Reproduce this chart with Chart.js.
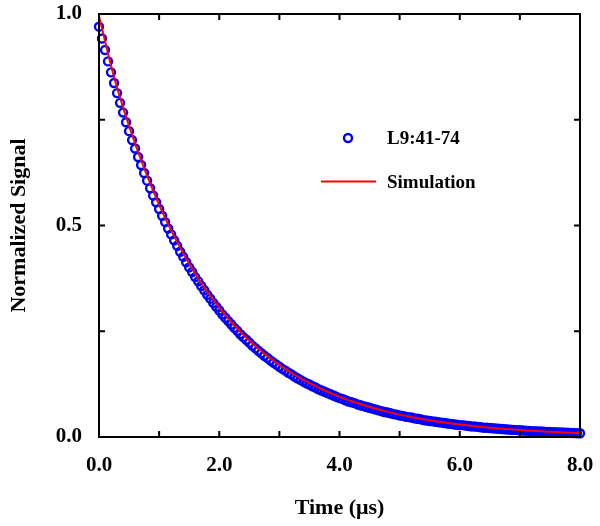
<!DOCTYPE html>
<html>
<head>
<meta charset="utf-8">
<script src="https://cdn.jsdelivr.net/npm/chart.js@4.4.1/dist/chart.umd.min.js"></script>
<style>
  html, body { margin: 0; padding: 0; background: #fff; }
  canvas { display: block; }
</style>
</head>
<body>
<canvas id="myChart" width="600" height="526"></canvas>
<script>
    // Measured decay (circles)
    const dataTime = [
        0.00,0.05,0.10,0.15,0.20,0.25,0.30,0.35,0.40,0.45,
        0.50,0.55,0.60,0.65,0.70,0.75,0.80,0.85,0.90,0.95,
        1.00,1.05,1.10,1.15,1.20,1.25,1.30,1.35,1.40,1.45,
        1.50,1.55,1.60,1.65,1.70,1.75,1.80,1.85,1.90,1.95,
        2.00,2.05,2.10,2.15,2.20,2.25,2.30,2.35,2.40,2.45,
        2.50,2.55,2.60,2.65,2.70,2.75,2.80,2.85,2.90,2.95,
        3.00,3.05,3.10,3.15,3.20,3.25,3.30,3.35,3.40,3.45,
        3.50,3.55,3.60,3.65,3.70,3.75,3.80,3.85,3.90,3.95,
        4.00,4.05,4.10,4.15,4.20,4.25,4.30,4.35,4.40,4.45,
        4.50,4.55,4.60,4.65,4.70,4.75,4.80,4.85,4.90,4.95,
        5.00,5.05,5.10,5.15,5.20,5.25,5.30,5.35,5.40,5.45,
        5.50,5.55,5.60,5.65,5.70,5.75,5.80,5.85,5.90,5.95,
        6.00,6.05,6.10,6.15,6.20,6.25,6.30,6.35,6.40,6.45,
        6.50,6.55,6.60,6.65,6.70,6.75,6.80,6.85,6.90,6.95,
        7.00,7.05,7.10,7.15,7.20,7.25,7.30,7.35,7.40,7.45,
        7.50,7.55,7.60,7.65,7.70,7.75,7.80,7.85,7.90,7.95,
        8.00
    ];
    const dataSignal = [
        0.970,0.942,0.915,0.888,0.862,0.837,0.813,0.790,0.767,0.744,
        0.723,0.702,0.682,0.662,0.643,0.624,0.606,0.588,0.571,0.555,
        0.539,0.523,0.508,0.493,0.479,0.465,0.452,0.438,0.426,0.413,
        0.401,0.390,0.378,0.368,0.357,0.347,0.336,0.327,0.317,0.308,
        0.299,0.290,0.282,0.274,0.266,0.258,0.251,0.243,0.236,0.230,
        0.223,0.216,0.210,0.204,0.198,0.192,0.187,0.181,0.176,0.171,
        0.166,0.161,0.157,0.152,0.148,0.143,0.139,0.135,0.131,0.127,
        0.124,0.120,0.117,0.113,0.110,0.107,0.104,0.101,0.098,0.095,
        0.092,0.090,0.087,0.084,0.082,0.080,0.077,0.075,0.073,0.071,
        0.069,0.067,0.065,0.063,0.061,0.059,0.058,0.056,0.054,0.053,
        0.051,0.050,0.048,0.047,0.046,0.044,0.043,0.042,0.040,0.039,
        0.038,0.037,0.036,0.035,0.034,0.033,0.032,0.031,0.030,0.029,
        0.028,0.028,0.027,0.026,0.025,0.025,0.024,0.023,0.022,0.022,
        0.0212,0.0206,0.0200,0.0194,0.0188,0.0183,0.0178,0.0173,0.0168,0.0163,
        0.0158,0.0153,0.0149,0.0145,0.0140,0.0136,0.0132,0.0129,0.0125,0.0121,
        0.0118,0.0114,0.0111,0.0108,0.0105,0.0102,0.0099,0.0096,0.0093,0.0090,
        0.0088
    ];

    // Simulation curve (red line)
    const simTime = [
        0.00,0.25,0.50,0.75,1.00,1.25,1.50,1.75,2.00,2.25,2.50,
        2.75,3.00,3.25,3.50,3.75,4.00,4.25,4.50,4.75,5.00,5.25,
        5.50,5.75,6.00,6.25,6.50,6.75,7.00,7.25,7.50,7.75,8.00
    ];
    const simSignal = [
        0.995,0.8510,0.7353,0.6353,0.5489,0.4742,0.4097,0.3540,0.3058,0.2642,0.2283,
        0.1973,0.1704,0.1472,0.1272,0.1099,0.0950,0.0821,0.0709,0.0612,0.0529,0.0457,
        0.0395,0.0341,0.0295,0.0255,0.0220,0.0190,0.0164,0.0142,0.0123,0.0106,0.0092
    ];

    // Axis ticks
    const xTickValues = [0, 1, 2, 3, 4, 5, 6, 7, 8];
    const xLabelValues = [0, 2, 4, 6, 8];
    const yTickValues = [0, 0.25, 0.5, 0.75, 1];
    const yLabelValues = [0, 0.5, 1];

    const serif = "'Liberation Serif', 'Times New Roman', serif";

    // Box frame with inward ticks on all four sides, plus the in-plot legend
    const framePlugin = {
        id: 'frame',
        afterDraw(chart) {
            const ctx = chart.ctx;
            const a = chart.chartArea;
            const xs = chart.scales.x, ys = chart.scales.y;
            ctx.save();
            ctx.strokeStyle = '#000';
            ctx.lineWidth = 2;
            ctx.strokeRect(a.left, a.top, a.right - a.left, a.bottom - a.top);
            ctx.beginPath();
            xTickValues.forEach(v => {
                const px = xs.getPixelForValue(v);
                ctx.moveTo(px, a.bottom); ctx.lineTo(px, a.bottom - 6);
                ctx.moveTo(px, a.top); ctx.lineTo(px, a.top + 6);
            });
            yTickValues.forEach(v => {
                const py = ys.getPixelForValue(v);
                ctx.moveTo(a.left, py); ctx.lineTo(a.left + 6, py);
                ctx.moveTo(a.right, py); ctx.lineTo(a.right - 6, py);
            });
            ctx.stroke();

            // legend
            ctx.font = 'bold 19px ' + serif;
            ctx.fillStyle = '#000';
            ctx.textBaseline = 'middle';
            ctx.textAlign = 'left';
            ctx.strokeStyle = '#0000ff';
            ctx.lineWidth = 2.4;
            ctx.beginPath();
            ctx.arc(348, 138, 4, 0, Math.PI * 2);
            ctx.stroke();
            ctx.fillText('L9:41-74', 387, 139);
            ctx.strokeStyle = '#ff0000';
            ctx.lineWidth = 2;
            ctx.beginPath();
            ctx.moveTo(321, 181.5); ctx.lineTo(376, 181.5);
            ctx.stroke();
            ctx.fillText('Simulation', 387, 183);
            ctx.restore();
        }
    };

    let ctx = document.getElementById('myChart').getContext('2d');
    let chart = new Chart(ctx, {
        type: 'scatter',
        data: {
            datasets: [{
                label: 'Simulation',
                data: simTime.map((t, i) => ({ x: t, y: simSignal[i] })),
                showLine: true,
                borderColor: '#ff0000',
                borderWidth: 2,
                pointRadius: 0,
                fill: false,
                cubicInterpolationMode: 'monotone',
                clip: false,
                order: 0
            }, {
                label: 'L9:41-74',
                data: dataTime.map((t, i) => ({ x: t, y: dataSignal[i] })),
                showLine: false,
                pointStyle: 'circle',
                pointRadius: 4,
                pointBorderWidth: 2.4,
                borderColor: '#0000ff',
                backgroundColor: 'rgba(0,0,0,0)',
                clip: false,
                order: 1
            }]
        },
        options: {
            responsive: false,
            animation: false,
            layout: { padding: { top: 14, right: 20, left: 0, bottom: 0 } },
            plugins: {
                legend: { display: false },
                tooltip: { enabled: false }
            },
            scales: {
                x: {
                    type: 'linear',
                    min: 0,
                    max: 8,
                    afterFit: s => { s.height = 89; s.paddingLeft = 0; s.paddingRight = 0; },
                    afterBuildTicks: s => { s.ticks = xTickValues.map(v => ({ value: v })); },
                    ticks: {
                        autoSkip: false,
                        maxRotation: 0,
                        padding: 16,
                        color: '#000',
                        font: { family: serif, size: 21, weight: 'bold' },
                        callback: v => xLabelValues.includes(v) ? v.toFixed(1) : ''
                    },
                    grid: { display: false, drawTicks: false },
                    border: { display: false },
                    title: {
                        display: true,
                        text: 'Time (μs)',
                        color: '#000',
                        font: { family: serif, size: 22, weight: 'bold' },
                        padding: { top: 0, bottom: 4 }
                    }
                },
                y: {
                    min: 0,
                    max: 1,
                    afterFit: s => { s.width = 99; s.paddingTop = 0; s.paddingBottom = 0; },
                    afterBuildTicks: s => { s.ticks = yTickValues.map(v => ({ value: v })); },
                    ticks: {
                        autoSkip: false,
                        padding: 17,
                        color: '#000',
                        font: { family: serif, size: 21, weight: 'bold' },
                        callback: v => yLabelValues.includes(v) ? v.toFixed(1) : ''
                    },
                    grid: { display: false, drawTicks: false },
                    border: { display: false },
                    title: {
                        display: true,
                        text: 'Normalized Signal',
                        color: '#000',
                        font: { family: serif, size: 22, weight: 'bold' },
                        padding: { top: 6, bottom: 0 }
                    }
                }
            }
        },
        plugins: [framePlugin]
    });
</script>
</body>
</html>
